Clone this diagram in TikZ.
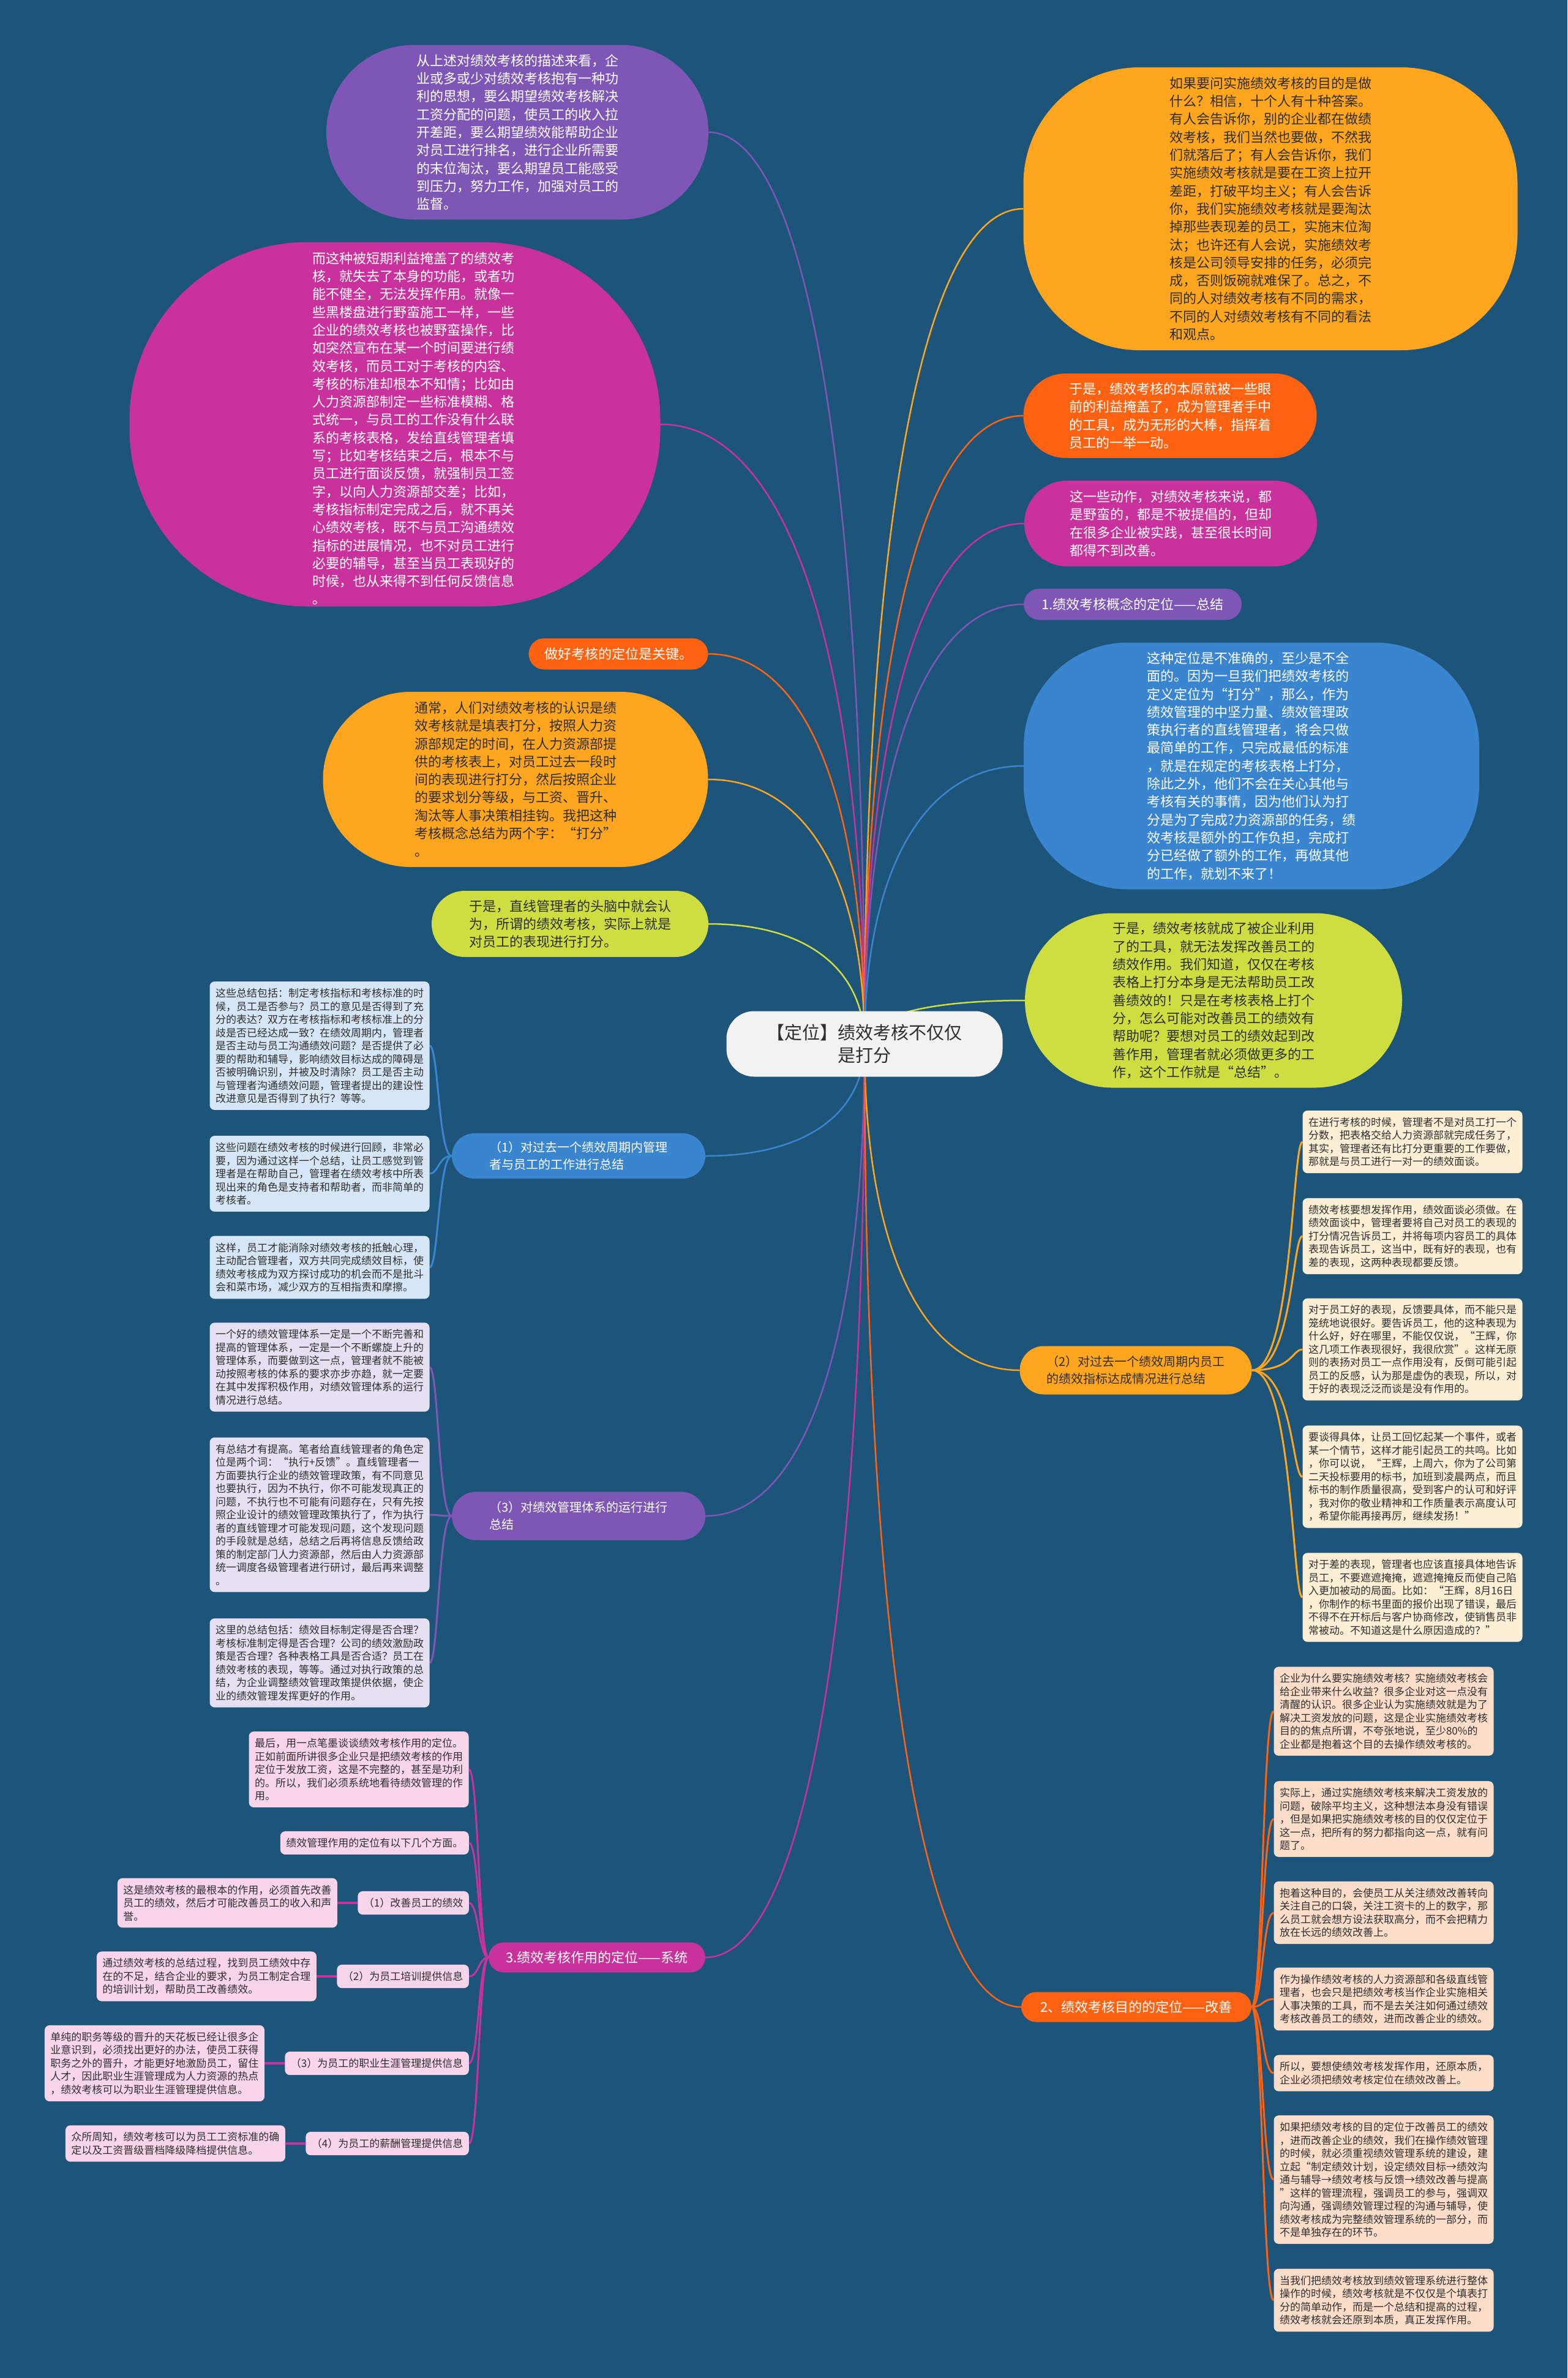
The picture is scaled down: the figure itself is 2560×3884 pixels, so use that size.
\documentclass[tikz,border=0pt]{standalone}
\usepackage{fontspec}
\setmainfont{Noto Sans CJK SC}
\usetikzlibrary{positioning, calc, shapes.misc}
\usepackage{xcolor}
\definecolor{bgblue}{HTML}{1D5479}
\definecolor{cpurple}{HTML}{7E57B6}
\definecolor{cmagenta}{HTML}{C9329C}
\definecolor{cgold}{HTML}{FFA61E}
\definecolor{corange}{HTML}{FF6311}
\definecolor{clime}{HTML}{CEDD3F}
\definecolor{cblue}{HTML}{3A85D0}
\definecolor{nblue}{HTML}{D6E6F6}
\definecolor{nlav}{HTML}{E5E0F2}
\definecolor{ncream}{HTML}{FCEFD5}
\definecolor{npeach}{HTML}{FBDDC9}
\definecolor{npink}{HTML}{F8D5EB}
\definecolor{ink}{HTML}{2E2E2E}
\definecolor{rootbg}{HTML}{F2F2F2}
\pgfdeclarelayer{bg}
\pgfdeclarelayer{links}
\pgfsetlayers{bg,links,main}

\begin{document}
\begin{tikzpicture}[
    x=1pt, y=-1pt,
    every node/.style={inner sep=0pt},
    bubble/.style={align=left, font=\fontsize{22}{29.3}\selectfont},
    pill/.style={bubble, rounded rectangle},
    tag/.style={rounded rectangle, align=left, font=\fontsize{22}{28}\selectfont},
    tagtwo/.style={tag, font=\fontsize{20}{28}\selectfont},
    note/.style={rounded corners=8pt, align=left, text=ink, font=\fontsize{17}{21.5}\selectfont, inner xsep=9.5pt, inner ysep=11pt, minimum width=359pt},
    link/.style={line width=2.5pt},
    sublink/.style={line width=3pt}
]
    \useasboundingbox (0,0) rectangle (2560,3884);

    \node[fill=rootbg, rounded corners=45pt, minimum width=451pt, minimum height=107pt, align=center, text=ink, font=\fontsize{29}{36.7}\selectfont] (ctr) at (1412,1705) {【定位】绩效考核不仅仅\\是打分};

    % left side
    \node[pill, fill=cpurple, text=white, minimum width=624pt, minimum height=285pt] (L1) at (845,216) {从上述对绩效考核的描述来看，企\\业或多或少对绩效考核抱有一种功\\利的思想，要么期望绩效考核解决\\工资分配的问题，使员工的收入拉\\开差距，要么期望绩效能帮助企业\\对员工进行排名，进行企业所需要\\的末位淘汰，要么期望员工能感受\\到压力，努力工作，加强对员工的\\监督。};
    \node[fill=cmagenta, rounded corners=290pt, minimum width=867pt, minimum height=595pt] (L2) at (645,693) {};
    \node[bubble, text=white] (L2t) at (675,700) {而这种被短期利益掩盖了的绩效考\\核，就失去了本身的功能，或者功\\能不健全，无法发挥作用。就像一\\些黑楼盘进行野蛮施工一样，一些\\企业的绩效考核也被野蛮操作，比\\如突然宣布在某一个时间要进行绩\\效考核，而员工对于考核的内容、\\考核的标准却根本不知情；比如由\\人力资源部制定一些标准模糊、格\\式统一，与员工的工作没有什么联\\系的考核表格，发给直线管理者填\\写；比如考核结束之后，根本不与\\员工进行面谈反馈，就强制员工签\\字，以向人力资源部交差；比如，\\考核指标制定完成之后，就不再关\\心绩效考核，既不与员工沟通绩效\\指标的进展情况，也不对员工进行\\必要的辅导，甚至当员工表现好的\\时候，也从来得不到任何反馈信息\\。};
    \node[tag, fill=corange, text=white, minimum width=293pt, minimum height=51pt] (L3) at (1010,1068) {做好考核的定位是关键。};
    \node[pill, fill=cgold, text=ink, minimum width=629pt, minimum height=286pt] (L4) at (842,1273) {通常，人们对绩效考核的认识是绩\\效考核就是填表打分，按照人力资\\源部规定的时间，在人力资源部提\\供的考核表上，对员工过去一段时\\间的表现进行打分，然后按照企业\\的要求划分等级，与工资、晋升、\\淘汰等人事决策相挂钩。我把这种\\考核概念总结为两个字：“打分”\\。};
    \node[pill, fill=clime, text=ink, minimum width=452pt, minimum height=108pt] (L5) at (931,1509) {于是，直线管理者的头脑中就会认\\为，所谓的绩效考核，实际上就是\\对员工的表现进行打分。};
    \node[tagtwo, fill=cblue, text=white, minimum width=414pt, minimum height=74pt] (L6) at (945,1888) {（1）对过去一个绩效周期内管理\\者与员工的工作进行总结};
    \node[tagtwo, fill=cpurple, text=white, minimum width=414pt, minimum height=79pt] (L7) at (945,2476) {（3）对绩效管理体系的运行进行\\总结};
    \node[tag, fill=cmagenta, text=white, minimum width=354pt, minimum height=49pt] (L8) at (975,3197) {3.绩效考核作用的定位——系统};

    % right side
    \node[bubble, fill=cgold, text=ink, rounded corners=190pt, minimum width=807pt, minimum height=462pt] (R1) at (2075,341) {如果要问实施绩效考核的目的是做\\什么？相信，十个人有十种答案。\\有人会告诉你，别的企业都在做绩\\效考核，我们当然也要做，不然我\\们就落后了；有人会告诉你，我们\\实施绩效考核就是要在工资上拉开\\差距，打破平均主义；有人会告诉\\你，我们实施绩效考核就是要淘汰\\掉那些表现差的员工，实施末位淘\\汰；也许还有人会说，实施绩效考\\核是公司领导安排的任务，必须完\\成，否则饭碗就难保了。总之，不\\同的人对绩效考核有不同的需求，\\不同的人对绩效考核有不同的看法\\和观点。};
    \node[pill, fill=corange, text=white, minimum width=479pt, minimum height=138pt] (R2) at (1911,679) {于是，绩效考核的本原就被一些眼\\前的利益掩盖了，成为管理者手中\\的工具，成为无形的大棒，指挥着\\员工的一举一动。};
    \node[pill, fill=cmagenta, text=white, minimum width=478pt, minimum height=140pt] (R3) at (1912,855) {这一些动作，对绩效考核来说，都\\是野蛮的，都是不被提倡的，但却\\在很多企业被实践，甚至很长时间\\都得不到改善。};
    \node[tag, fill=cpurple, text=white, minimum width=356pt, minimum height=51pt] (R4) at (1850,987) {1.绩效考核概念的定位——总结};
    \node[bubble, fill=cblue, text=white, rounded corners=170pt, minimum width=744pt, minimum height=403pt] (R5) at (2044,1251) {这种定位是不准确的，至少是不全\\面的。因为一旦我们把绩效考核的\\定义定位为“打分”，那么，作为\\绩效管理的中坚力量、绩效管理政\\策执行者的直线管理者，将会只做\\最简单的工作，只完成最低的标准\\，就是在规定的考核表格上打分，\\除此之外，他们不会在关心其他与\\考核有关的事情，因为他们认为打\\分是为了完成?力资源部的任务，绩\\效考核是额外的工作负担，完成打\\分已经做了额外的工作，再做其他\\的工作，就划不来了！};
    \node[pill, fill=clime, text=ink, minimum width=616pt, minimum height=285pt] (R6) at (1982,1634) {于是，绩效考核就成了被企业利用\\了的工具，就无法发挥改善员工的\\绩效作用。我们知道，仅仅在考核\\表格上打分本身是无法帮助员工改\\善绩效的！只是在考核表格上打个\\分，怎么可能对改善员工的绩效有\\帮助呢？要想对员工的绩效起到改\\善作用，管理者就必须做更多的工\\作，这个工作就是“总结”。};
    \node[tagtwo, fill=cgold, text=ink, minimum width=379pt, minimum height=79pt] (R7) at (1855,2238) {（2）对过去一个绩效周期内员工\\的绩效指标达成情况进行总结};
    \node[tag, fill=corange, text=white, minimum width=376pt, minimum height=49pt] (R8) at (1856,3278) {2、绩效考核目的的定位——改善};

    % notes of (1)
    \node[note, fill=nblue] (N1a) at (522,1708) {这些总结包括：制定考核指标和考核标准的时\\候，员工是否参与？员工的意见是否得到了充\\分的表达？双方在考核指标和考核标准上的分\\歧是否已经达成一致？在绩效周期内，管理者\\是否主动与员工沟通绩效问题？是否提供了必\\要的帮助和辅导，影响绩效目标达成的障碍是\\否被明确识别，并被及时清除？员工是否主动\\与管理者沟通绩效问题，管理者提出的建设性\\改进意见是否得到了执行？等等。};
    \node[note, fill=nblue] (N1b) at (522,1917) {这些问题在绩效考核的时候进行回顾，非常必\\要，因为通过这样一个总结，让员工感觉到管\\理者是在帮助自己，管理者在绩效考核中所表\\现出来的角色是支持者和帮助者，而非简单的\\考核者。};
    \node[note, fill=nblue] (N1c) at (522,2070) {这样，员工才能消除对绩效考核的抵触心理，\\主动配合管理者，双方共同完成绩效目标，使\\绩效考核成为双方探讨成功的机会而不是批斗\\会和菜市场，减少双方的互相指责和摩擦。};

    % notes of (3)
    \node[note, fill=nlav] (N4a) at (522,2233) {一个好的绩效管理体系一定是一个不断完善和\\提高的管理体系，一定是一个不断螺旋上升的\\管理体系，而要做到这一点，管理者就不能被\\动按照考核的体系的要求亦步亦趋，就一定要\\在其中发挥积极作用，对绩效管理体系的运行\\情况进行总结。};
    \node[note, fill=nlav] (N4b) at (522,2474) {有总结才有提高。笔者给直线管理者的角色定\\位是两个词：“执行+反馈”。直线管理者一\\方面要执行企业的绩效管理政策，有不同意见\\也要执行，因为不执行，你不可能发现真正的\\问题，不执行也不可能有问题存在，只有先按\\照企业设计的绩效管理政策执行了，作为执行\\者的直线管理才可能发现问题，这个发现问题\\的手段就是总结，总结之后再将信息反馈给政\\策的制定部门人力资源部，然后由人力资源部\\统一调度各级管理者进行研讨，最后再来调整\\。};
    \node[note, fill=nlav] (N4c) at (522,2716) {这里的总结包括：绩效目标制定得是否合理？\\考核标准制定得是否合理？公司的绩效激励政\\策是否合理？各种表格工具是否合适？员工在\\绩效考核的表现，等等。通过对执行政策的总\\结，为企业调整绩效管理政策提供依据，使企\\业的绩效管理发挥更好的作用。};

    % notes of (2)
    \node[note, fill=ncream] (N2a) at (2307,1865) {在进行考核的时候，管理者不是对员工打一个\\分数，把表格交给人力资源部就完成任务了，\\其实，管理者还有比打分更重要的工作要做，\\那就是与员工进行一对一的绩效面谈。};
    \node[note, fill=ncream] (N2b) at (2307,2019) {绩效考核要想发挥作用，绩效面谈必须做。在\\绩效面谈中，管理者要将自己对员工的表现的\\打分情况告诉员工，并将每项内容员工的具体\\表现告诉员工，这当中，既有好的表现，也有\\差的表现，这两种表现都要反馈。};
    \node[note, fill=ncream] (N2c) at (2307,2204) {对于员工好的表现，反馈要具体，而不能只是\\笼统地说很好。要告诉员工，他的这种表现为\\什么好，好在哪里，不能仅仅说，“王辉，你\\这几项工作表现很好，我很欣赏”。这样无原\\则的表扬对员工一点作用没有，反倒可能引起\\员工的反感，认为那是虚伪的表现，所以，对\\于好的表现泛泛而谈是没有作用的。};
    \node[note, fill=ncream] (N2d) at (2307,2412) {要谈得具体，让员工回忆起某一个事件，或者\\某一个情节，这样才能引起员工的共鸣。比如\\，你可以说，“王辉，上周六，你为了公司第\\二天投标要用的标书，加班到凌晨两点，而且\\标书的制作质量很高，受到客户的认可和好评\\，我对你的敬业精神和工作质量表示高度认可\\，希望你能再接再厉，继续发扬！”};
    \node[note, fill=ncream] (N2e) at (2307,2609) {对于差的表现，管理者也应该直接具体地告诉\\员工，不要遮遮掩掩，遮遮掩掩反而使自己陷\\入更加被动的局面。比如：“王辉，8月16日\\，你制作的标书里面的报价出现了错误，最后\\不得不在开标后与客户协商修改，使销售员非\\常被动。不知道这是什么原因造成的？”};

    % notes of 2、
    \node[note, fill=npeach] (N3a) at (2260,2795) {企业为什么要实施绩效考核？实施绩效考核会\\给企业带来什么收益？很多企业对这一点没有\\清醒的认识。很多企业认为实施绩效就是为了\\解决工资发放的问题，这是企业实施绩效考核\\目的的焦点所谓，不夸张地说，至少80\%的\\企业都是抱着这个目的去操作绩效考核的。};
    \node[note, fill=npeach] (N3b) at (2260,2971) {实际上，通过实施绩效考核来解决工资发放的\\问题，破除平均主义，这种想法本身没有错误\\，但是如果把实施绩效考核的目的仅仅定位于\\这一点，把所有的努力都指向这一点，就有问\\题了。};
    \node[note, fill=npeach] (N3c) at (2260,3124) {抱着这种目的，会使员工从关注绩效改善转向\\关注自己的口袋，关注工资卡的上的数字，那\\么员工就会想方设法获取高分，而不会把精力\\放在长远的绩效改善上。};
    \node[note, fill=npeach] (N3d) at (2260,3265) {作为操作绩效考核的人力资源部和各级直线管\\理者，也会只是把绩效考核当作企业实施相关\\人事决策的工具，而不是去关注如何通过绩效\\考核改善员工的绩效，进而改善企业的绩效。};
    \node[note, fill=npeach] (N3e) at (2260,3386) {所以，要想使绩效考核发挥作用，还原本质，\\企业必须把绩效考核定位在绩效改善上。};
    \node[note, fill=npeach] (N3f) at (2260,3560) {如果把绩效考核的目的定位于改善员工的绩效\\，进而改善企业的绩效，我们在操作绩效管理\\的时候，就必须重视绩效管理系统的建设，建\\立起“制定绩效计划，设定绩效目标→绩效沟\\通与辅导→绩效考核与反馈→绩效改善与提高\\”这样的管理流程，强调员工的参与，强调双\\向沟通，强调绩效管理过程的沟通与辅导，使\\绩效考核成为完整绩效管理系统的一部分，而\\不是单独存在的环节。};
    \node[note, fill=npeach] (N3g) at (2260,3757) {当我们把绩效考核放到绩效管理系统进行整体\\操作的时候，绩效考核就是不仅仅是个填表打\\分的简单动作，而是一个总结和提高的过程，\\绩效考核就会还原到本质，真正发挥作用。};

    % notes of 3.
    \node[note, fill=npink] (N5a) at (586,2890) {最后，用一点笔墨谈谈绩效考核作用的定位。\\正如前面所讲很多企业只是把绩效考核的作用\\定位于发放工资，这是不完整的，甚至是功利\\的。所以，我们必须系统地看待绩效管理的作\\用。};
    \node[note, fill=npink, minimum width=0pt, anchor=east] (N5b) at (766,3010) {绩效管理作用的定位有以下几个方面。};
    \node[note, fill=npink, minimum width=0pt, anchor=east] (N5c) at (766,3108) {（1）改善员工的绩效};
    \node[note, fill=npink, minimum width=0pt, anchor=east] (N5d) at (766,3228) {（2）为员工培训提供信息};
    \node[note, fill=npink, minimum width=0pt, anchor=east] (N5e) at (766,3370) {（3）为员工的职业生涯管理提供信息};
    \node[note, fill=npink, minimum width=0pt, anchor=east] (N5f) at (766,3501) {（4）为员工的薪酬管理提供信息};
    \node[note, fill=npink, left=33pt of N5c] (N5cx) {这是绩效考核的最根本的作用，必须首先改善\\员工的绩效，然后才可能改善员工的收入和声\\誉。};
    \node[note, fill=npink, left=33pt of N5d] (N5dx) {通过绩效考核的总结过程，找到员工绩效中存\\在的不足，结合企业的要求，为员工制定合理\\的培训计划，帮助员工改善绩效。};
    \node[note, fill=npink, left=33pt of N5e] (N5ex) {单纯的职务等级的晋升的天花板已经让很多企\\业意识到，必须找出更好的办法，使员工获得\\职务之外的晋升，才能更好地激励员工，留住\\人才，因此职业生涯管理成为人力资源的热点\\，绩效考核可以为职业生涯管理提供信息。};
    \node[note, fill=npink, left=33pt of N5f] (N5fx) {众所周知，绩效考核可以为员工工资标准的确\\定以及工资晋级晋档降级降档提供信息。};

    \begin{pgfonlayer}{bg}
        \fill[bgblue] (0,0) rectangle (2560,3884);
    \end{pgfonlayer}

    \begin{pgfonlayer}{links}
        \foreach \t/\c in {L1.east/cpurple, L2.east/cmagenta, L3.east/corange, L4.east/cgold, L5.east/clime, L6.east/cblue, L7.east/cpurple, L8.east/cmagenta, R1.west/cgold, R2.west/corange, R3.west/cmagenta, R4.west/cpurple, R5.west/cblue, R6.west/clime, R7.west/cgold, R8.west/corange}
            \draw[link, draw=\c] (ctr.center) .. controls ($(ctr.center |- \t)!0.4!(ctr.center)$) and ($(\t -| ctr.center)!0.35!(\t)$) .. (\t);

        \foreach \n in {N2a, N2b, N2c, N2d, N2e}
            \draw[sublink, cgold] (R7.east) .. controls ($(R7.east)!0.8!(R7.east -| \n.west)$) and ($(\n.west)!0.2!(\n.west -| R7.east)$) .. (\n.west);
        \foreach \n in {N3a, N3b, N3c, N3d, N3e, N3f, N3g}
            \draw[sublink, corange] (R8.east) .. controls ($(R8.east)!0.5!(R8.east -| \n.west)$) and ($(\n.west)!0.5!(\n.west -| R8.east)$) .. (\n.west);
        \foreach \n in {N1a, N1b, N1c}
            \draw[sublink, cblue] (L6.west) .. controls ($(L6.west)!0.6!(L6.west -| \n.east)$) and ($(\n.east)!0.4!(\n.east -| L6.west)$) .. (\n.east);
        \foreach \n in {N4a, N4b, N4c}
            \draw[sublink, cpurple] (L7.west) .. controls ($(L7.west)!0.6!(L7.west -| \n.east)$) and ($(\n.east)!0.4!(\n.east -| L7.west)$) .. (\n.east);
        \foreach \n in {N5a, N5b, N5c, N5d, N5e, N5f}
            \draw[sublink, cmagenta] (L8.west) .. controls ($(L8.west)!0.5!(L8.west -| \n.east)$) and ($(\n.east)!0.5!(\n.east -| L8.west)$) .. (\n.east);
        \foreach \n in {N5c, N5d, N5e, N5f}
            \draw[line width=4pt, cmagenta] (\n.west) -- (\n x.east);
    \end{pgfonlayer}
\end{tikzpicture}
\end{document}
